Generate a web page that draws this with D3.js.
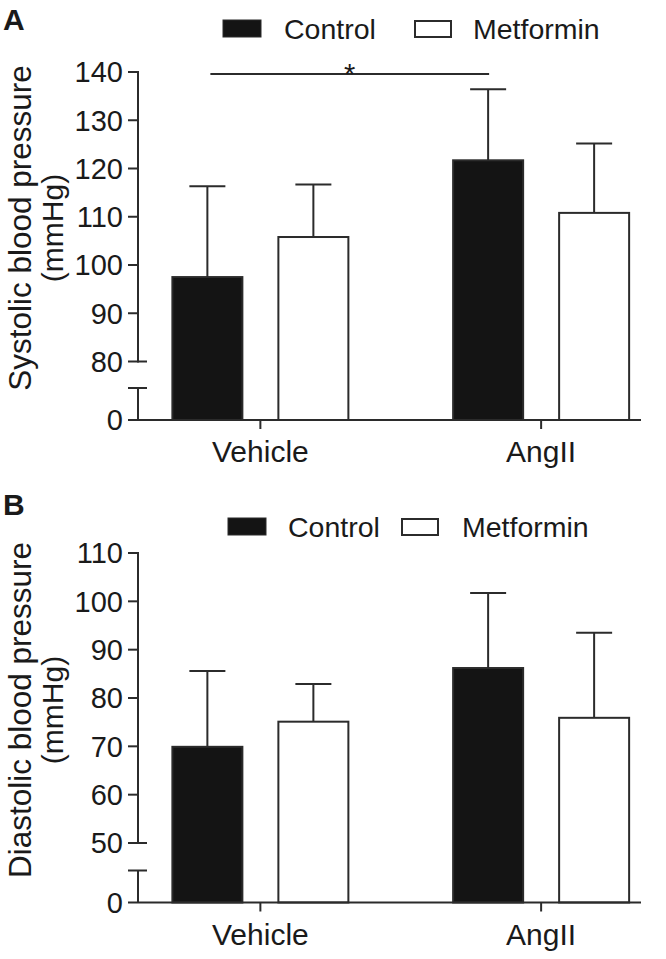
<!DOCTYPE html>
<html>
<head>
<meta charset="utf-8">
<script src="https://cdn.jsdelivr.net/npm/d3@7"></script>
<style>
  html, body { margin: 0; padding: 0; background: #fff; }
  svg text { font-family: "Liberation Sans", Arial, Helvetica, sans-serif; fill: #1a1a1a; }
</style>
</head>
<body>
<svg id="chart" width="666" height="959"></svg>
<script>
// ---------- data ----------
const categories = ["Vehicle", "AngII"];
const seriesNames = ["Control", "Metformin"];

// Panel A: systolic blood pressure (mean, SD)
const sbpControl = [97.5, 121.7];
const sbpControlSD = [18.8, 14.7];
const sbpMetformin = [105.8, 110.8];
const sbpMetforminSD = [10.9, 14.4];
const sbpTicks = [80, 90, 100, 110, 120, 130, 140];

// Panel B: diastolic blood pressure (mean, SD)
const dbpControl = [69.9, 86.2];
const dbpControlSD = [15.7, 15.5];
const dbpMetformin = [75.1, 75.9];
const dbpMetforminSD = [7.8, 17.6];
const dbpTicks = [50, 60, 70, 80, 90, 100, 110];

const svg = d3.select("#chart");
const lineCol = "#2b2b2b";
const fills = { Control: "#141414", Metformin: "#ffffff" };

function drawPanel(cfg) {
  const g = svg.append("g");
  const axisX = 138;
  // piecewise (broken) y scale: 0 at baseline, break, then tick range
  const y = d3.scaleLinear()
    .domain([0, cfg.ticks[0], cfg.ticks[cfg.ticks.length - 1]])
    .range([cfg.y0, cfg.yBreakLow, cfg.yTop]);

  const x = d3.scaleBand().domain(categories).range([120, 681.5]);
  const xs = d3.scaleBand().domain(seriesNames).range([-88, 88]).paddingInner(36 / 106);

  const rows = [];
  categories.forEach((c, i) => {
    seriesNames.forEach((s, j) => {
      const v = j === 0 ? cfg.control[i] : cfg.metformin[i];
      const sd = j === 0 ? cfg.controlSD[i] : cfg.metforminSD[i];
      rows.push({ c, s, v, sd });
    });
  });
  const cx = d => x(d.c) + x.bandwidth() / 2 + xs(d.s) + xs.bandwidth() / 2;

  // error bars (upward only)
  g.selectAll(".err").data(rows).join("line")
    .attr("x1", cx).attr("x2", cx)
    .attr("y1", d => y(d.v)).attr("y2", d => y(d.v + d.sd))
    .attr("stroke", lineCol).attr("stroke-width", 2);
  g.selectAll(".cap").data(rows).join("line")
    .attr("x1", d => cx(d) - 18).attr("x2", d => cx(d) + 18)
    .attr("y1", d => y(d.v + d.sd)).attr("y2", d => y(d.v + d.sd))
    .attr("stroke", lineCol).attr("stroke-width", 2);

  // bars
  g.selectAll(".bar").data(rows).join("rect")
    .attr("x", d => cx(d) - xs.bandwidth() / 2)
    .attr("width", xs.bandwidth())
    .attr("y", d => y(d.v))
    .attr("height", d => y(0) - y(d.v))
    .attr("fill", d => fills[d.s])
    .attr("stroke", lineCol).attr("stroke-width", 2);

  // y axis upper segment
  const top = cfg.ticks[cfg.ticks.length - 1], low = cfg.ticks[0];
  g.append("line").attr("x1", axisX).attr("x2", axisX)
    .attr("y1", y(top) - 1).attr("y2", y(low) + 1)
    .attr("stroke", lineCol).attr("stroke-width", 2);
  g.selectAll(".tk").data(cfg.ticks).join("line")
    .attr("x1", 128).attr("x2", d => d === low ? 147 : axisX)
    .attr("y1", d => y(d)).attr("y2", d => y(d))
    .attr("stroke", lineCol).attr("stroke-width", 2);
  g.selectAll(".tl").data(cfg.ticks).join("text")
    .attr("x", 123).attr("y", d => y(d))
    .attr("dy", "0.36em").attr("text-anchor", "end")
    .attr("font-size", 29).text(d => d);

  // lower segment with break cap
  const capY = y(0) - 32;
  g.append("line").attr("x1", axisX).attr("x2", axisX)
    .attr("y1", capY).attr("y2", y(0))
    .attr("stroke", lineCol).attr("stroke-width", 2);
  g.append("line").attr("x1", 128).attr("x2", 147)
    .attr("y1", capY).attr("y2", capY)
    .attr("stroke", lineCol).attr("stroke-width", 2);
  g.append("line").attr("x1", 128).attr("x2", 641)
    .attr("y1", y(0)).attr("y2", y(0))
    .attr("stroke", lineCol).attr("stroke-width", 2);
  g.append("text").attr("x", 123).attr("y", y(0))
    .attr("dy", "0.36em").attr("text-anchor", "end")
    .attr("font-size", 29).text(0);

  // category ticks and labels
  g.selectAll(".ct").data(categories).join("line")
    .attr("x1", d => x(d) + x.bandwidth() / 2).attr("x2", d => x(d) + x.bandwidth() / 2)
    .attr("y1", y(0)).attr("y2", y(0) + 9)
    .attr("stroke", lineCol).attr("stroke-width", 2);
  g.selectAll(".cl").data(categories).join("text")
    .attr("x", d => x(d) + x.bandwidth() / 2).attr("y", y(0) + 42)
    .attr("text-anchor", "middle").attr("font-size", 30).text(d => d);

  // y title (two lines)
  const tg = g.append("g").attr("transform", `translate(0,${cfg.titleY}) rotate(-90)`);
  tg.append("text").attr("x", 0).attr("y", 31).attr("text-anchor", "middle")
    .attr("font-size", 31.5).text(cfg.title);
  tg.append("text").attr("x", 0).attr("y", 63).attr("text-anchor", "middle")
    .attr("font-size", 30).text("(mmHg)");

  // legend
  const L = cfg.legend;
  g.append("rect").attr("x", L.r1).attr("y", L.y).attr("width", 38).attr("height", 17)
    .attr("fill", fills.Control).attr("stroke", lineCol).attr("stroke-width", 1);
  g.append("text").attr("x", L.t1).attr("y", L.y + 19).attr("font-size", 28.5).text(seriesNames[0]);
  g.append("rect").attr("x", L.r2).attr("y", L.y + 1).attr("width", 36).attr("height", 16)
    .attr("fill", fills.Metformin).attr("stroke", lineCol).attr("stroke-width", 2);
  g.append("text").attr("x", L.t2).attr("y", L.y + 19).attr("font-size", 28.5).text(seriesNames[1]);

  // panel letter
  g.append("text").attr("x", 3).attr("y", cfg.letterY).attr("font-size", 30)
    .attr("font-weight", "bold").text(cfg.letter);

  return { g, y, cx, rows };
}

const A = drawPanel({
  letter: "A", letterY: 30,
  ticks: sbpTicks, y0: 420, yBreakLow: 361.5, yTop: 72,
  control: sbpControl, controlSD: sbpControlSD,
  metformin: sbpMetformin, metforminSD: sbpMetforminSD,
  title: "Systolic blood pressure", titleY: 228,
  legend: { y: 20, r1: 223, t1: 284, r2: 415, t2: 473 }
});

// significance bracket: Vehicle Control vs AngII Control
const sigVal = 139.6;
const c1 = A.cx(A.rows[0]), c2 = A.cx(A.rows[2]);
A.g.append("line").attr("x1", c1 + 3).attr("x2", c2 + 1)
  .attr("y1", A.y(sigVal)).attr("y2", A.y(sigVal))
  .attr("stroke", lineCol).attr("stroke-width", 2);
A.g.append("text").attr("x", (c1 + c2) / 2 + 2).attr("y", A.y(sigVal) + 10)
  .attr("text-anchor", "middle").attr("font-size", 29).text("*");

drawPanel({
  letter: "B", letterY: 515,
  ticks: dbpTicks, y0: 902.5, yBreakLow: 843, yTop: 553,
  control: dbpControl, controlSD: dbpControlSD,
  metformin: dbpMetformin, metforminSD: dbpMetforminSD,
  title: "Diastolic blood pressure", titleY: 710,
  legend: { y: 518, r1: 228, t1: 288, r2: 402, t2: 462 }
});
</script>
</body>
</html>
